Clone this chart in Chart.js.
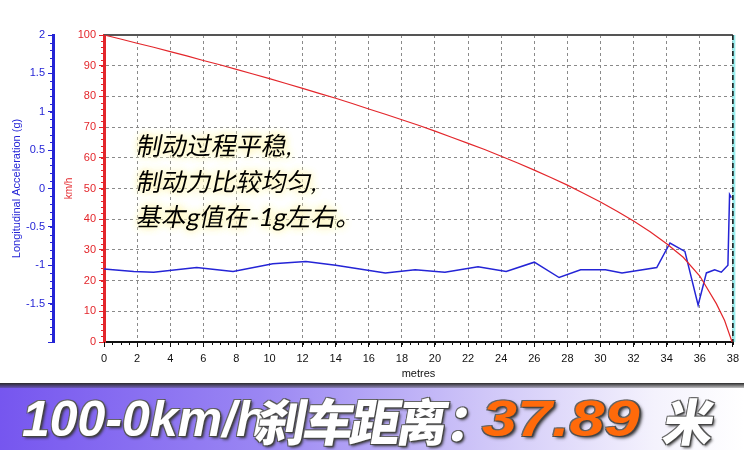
<!DOCTYPE html>
<html>
<head>
<meta charset="utf-8">
<script src="https://cdn.jsdelivr.net/npm/chart.js@4.4.1/dist/chart.umd.min.js"></script>
<style>
  html, body { margin: 0; padding: 0; background: #fff; }
  #wrap { position: relative; width: 744px; height: 450px; overflow: hidden; }
  #chartBox { position: absolute; left: 0; top: 0; width: 744px; height: 383px; }
  #banner {
    position: absolute; left: 0; top: 383px; width: 744px; height: 67px;
    background: linear-gradient(to right, #7656ef 0%, #9a86f3 35%, #cfc6f8 65%, #f4f2fd 88%, #ffffff 100%);
  }
  #banner:before {
    content: ""; position: absolute; left: 0; top: 0; width: 100%; height: 5px;
    background: linear-gradient(to bottom, #2a2a2a, rgba(60,60,60,0.3));
  }
  .bt {
    position: absolute; top: 6px; white-space: nowrap;
    font-family: "Liberation Sans", sans-serif;
    font-weight: 900; font-style: italic; font-size: 50px; line-height: 60px;
    color: #fff; transform-origin: left center;
    text-shadow: 1px 1px 0 #444, -1px -1px 0 #666, 1px -1px 0 #555, -1px 1px 0 #555, 2px 2px 3px #333;
  }
  .bt.cjk { font-family: "Noto Sans CJK SC", sans-serif; font-style: normal; transform: skewX(-10deg); }
  .bt.num { color: #ff6a0a; }
</style>
</head>
<body>
<div id="wrap">
  <div id="chartBox"><canvas id="c"></canvas></div>
  <div id="banner">
    <div class="bt" style="left:22px">100-0km/h</div>
    <div class="bt cjk" style="left:258px; letter-spacing:-3px">刹车距离</div>
    <div class="bt cjk" style="left:448px">：</div>
    <div class="bt num" style="left:482px; transform: scaleX(1.26)">37.89</div>
    <div class="bt cjk" style="left:665px">米</div>
  </div>
</div>
<script>
// speed vs distance (km/h)
const speedDist = [0, 1, 2, 3, 4, 5, 6, 7, 8, 9, 10, 11, 12, 13, 14, 15, 16, 17, 18, 19,
  20, 21, 22, 23, 24, 25, 26, 27, 28, 29, 30, 31, 32, 33, 34, 35, 36, 37, 37.5, 37.95];
const speedVals = [100, 98.7, 97.3, 96.0, 94.6, 93.2, 91.7, 90.3, 88.8, 87.3, 85.8, 84.2, 82.6, 81.0, 79.4, 77.7, 75.9, 74.2, 72.4, 70.6,
  68.7, 66.7, 64.7, 62.7, 60.5, 58.3, 56.0, 53.6, 51.1, 48.4, 45.6, 42.6, 39.4, 35.9, 32.0, 27.6, 21.5, 12.5, 7.0, 0];

// longitudinal acceleration (g)
const accDist = [0, 1.8, 3.0, 5.6, 7.8, 10.2, 12.2, 14.0, 17.0, 18.8, 20.6, 22.6, 24.3, 26.0,
  27.5, 28.8, 30.3, 31.3, 33.4, 34.2, 35.1, 35.9, 36.4, 36.9, 37.3, 37.7, 37.8, 37.9];
const accVals = [-1.05, -1.08, -1.09, -1.03, -1.08, -0.98, -0.95, -1.00, -1.10, -1.06, -1.09, -1.02, -1.08, -0.96,
  -1.16, -1.06, -1.06, -1.10, -1.03, -0.71, -0.82, -1.52, -1.10, -1.06, -1.09, -1.00, -0.08, -0.12];

const noteLines = ["制动过程平稳,", "制动力比较均匀,", "基本g值在-1g左右。"];

const RED = "#e3262b";
const BLUE = "#2424d6";
const GRID = "#8a8a8a";
const AXFONT = { family: "'Liberation Sans', Arial, sans-serif", size: 11 };

function pts(xs, ys) {
  return xs.map((x, i) => ({ x: x, y: ys[i] }));
}

// minor ticks + frame + note text
const extras = {
  id: "extras",
  beforeDatasetsDraw(chart) {
    const ctx = chart.ctx;
    const a = chart.chartArea;
    ctx.save();
    // top frame
    ctx.strokeStyle = "#555";
    ctx.lineWidth = 2;
    ctx.beginPath();
    ctx.moveTo(a.left, a.top);
    ctx.lineTo(a.right, a.top);
    ctx.stroke();
    // right frame, dashed
    ctx.strokeStyle = "#9ee";
    ctx.lineWidth = 3;
    ctx.beginPath();
    ctx.moveTo(a.right + 1, a.top);
    ctx.lineTo(a.right + 1, a.bottom);
    ctx.stroke();
    ctx.strokeStyle = "#111";
    ctx.lineWidth = 1.5;
    ctx.setLineDash([5, 3]);
    ctx.beginPath();
    ctx.moveTo(a.right, a.top);
    ctx.lineTo(a.right, a.bottom);
    ctx.stroke();
    ctx.setLineDash([]);

    // minor ticks
    const x = chart.scales.x, yk = chart.scales.yKmh, yg = chart.scales.yG;
    ctx.lineWidth = 1;
    ctx.strokeStyle = "#111";
    for (let v = 0; v <= 38; v += 0.5) {
      const px = Math.round(x.getPixelForValue(v)) + 0.5;
      ctx.beginPath();
      ctx.moveTo(px, a.bottom);
      ctx.lineTo(px, a.bottom + 3);
      ctx.stroke();
    }
    ctx.strokeStyle = RED;
    for (let v = 0; v <= 100; v += 2) {
      const py = Math.round(yk.getPixelForValue(v)) + 0.5;
      ctx.beginPath();
      ctx.moveTo(yk.right - 3, py);
      ctx.lineTo(yk.right, py);
      ctx.stroke();
    }
    ctx.strokeStyle = BLUE;
    for (let v = -2; v <= 2.001; v += 0.1) {
      const py = Math.round(yg.getPixelForValue(v)) + 0.5;
      ctx.beginPath();
      ctx.moveTo(yg.right - 3, py);
      ctx.lineTo(yg.right, py);
      ctx.stroke();
    }
    ctx.restore();
  },
  afterDraw(chart) {
    const ctx = chart.ctx;
    ctx.save();
    ctx.font = "25px Lato, 'Noto Sans CJK SC', sans-serif";
    ctx.textBaseline = "middle";
    const ys = [147, 183, 218];
    const sk = 0.2;
    // fake italic with a skew
    const put = (t, y) => {
      ctx.setTransform(1, 0, -sk, 1, sk * y, 0);
      ctx.fillText(t, 137, y);
    };
    // soft cream glow behind the note
    ctx.fillStyle = "rgba(255,251,215,1)";
    ctx.shadowColor = "rgba(255,246,190,1)";
    ctx.shadowBlur = 9;
    for (let k = 0; k < 3; k++) {
      noteLines.forEach((t, i) => put(t, ys[i]));
    }
    ctx.shadowBlur = 0;
    ctx.fillStyle = "#000";
    noteLines.forEach((t, i) => put(t, ys[i]));
    ctx.restore();
  }
};

new Chart(document.getElementById("c"), {
  type: "line",
  data: {
    datasets: [
      {
        label: "km/h",
        data: pts(speedDist, speedVals),
        yAxisID: "yKmh",
        borderColor: RED,
        borderWidth: 1.2,
        pointRadius: 0,
        tension: 0
      },
      {
        label: "g",
        data: pts(accDist, accVals),
        yAxisID: "yG",
        borderColor: BLUE,
        borderWidth: 1.5,
        pointRadius: 0,
        tension: 0
      }
    ]
  },
  options: {
    responsive: true,
    maintainAspectRatio: false,
    animation: false,
    layout: { padding: { top: 35, right: 6, left: 0, bottom: 0 } },
    plugins: { legend: { display: false }, tooltip: { enabled: false } },
    scales: {
      x: {
        type: "linear",
        min: 0,
        max: 38,
        ticks: { stepSize: 2, color: "#111", font: AXFONT, padding: 5 },
        grid: { color: GRID, tickColor: "#111", tickLength: 5, lineWidth: 1 },
        border: { color: "#111", width: 2, dash: [3, 3] },
        title: { display: true, text: "metres", color: "#111", font: AXFONT, padding: { top: 0, bottom: 2 } },
        afterFit(s) { s.height = 41; }
      },
      yKmh: {
        position: "left",
        weight: 0,
        min: 0,
        max: 100,
        ticks: { stepSize: 10, color: RED, font: AXFONT, padding: 3 },
        grid: { color: GRID, tickColor: RED, tickLength: 5 },
        border: { color: RED, width: 3, dash: [3, 3] },
        title: { display: true, text: "km/h", color: RED, font: { family: AXFONT.family, size: 10 }, padding: { top: 10, bottom: 0 } },
        afterFit(s) { s.width = 51; }
      },
      yG: {
        position: "left",
        weight: 1,
        min: -2,
        max: 2,
        ticks: {
          stepSize: 0.5,
          color: BLUE,
          font: AXFONT,
          padding: 3,
          callback: v => (v === -2 ? "" : v)
        },
        grid: { drawOnChartArea: false, tickColor: BLUE, tickLength: 5 },
        border: { color: BLUE, width: 3 },
        title: { display: true, text: "Longitudinal Acceleration (g)", color: BLUE, font: { family: AXFONT.family, size: 11 }, padding: { top: 10, bottom: 0 } },
        afterFit(s) { s.width = 53; }
      }
    }
  },
  plugins: [extras]
});
</script>
</body>
</html>
